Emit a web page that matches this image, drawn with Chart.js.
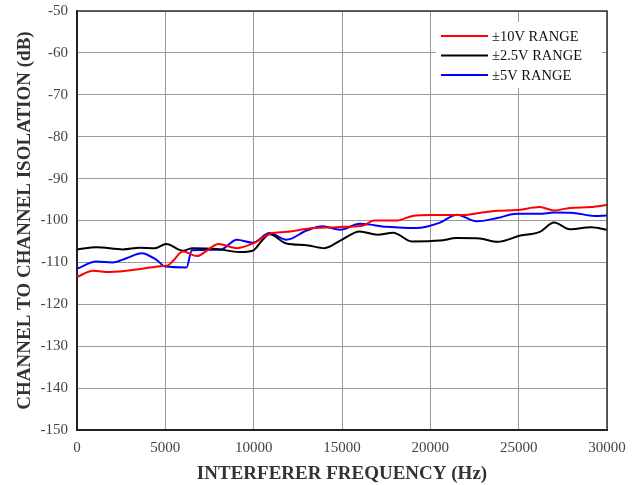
<!DOCTYPE html>
<html>
<head>
<meta charset="utf-8">
<script src="https://cdn.jsdelivr.net/npm/chart.js@4"></script>
<style>
  html, body { margin: 0; padding: 0; background: #fff; }
  #wrap { width: 637px; height: 485px; }
</style>
</head>
<body>
<div id="wrap"><canvas id="isoChart" width="637" height="485"></canvas></div>
<script>
// series: frequency (Hz) and isolation (dB)
const seriesNames = ['\u00B110V RANGE', '\u00B12.5V RANGE', '\u00B15V RANGE'];
const seriesColors = ['#ff0000', '#000000', '#0000ff'];

const redFreq = [0, 900, 1850, 3700, 4700, 5150, 5400, 6000, 6800, 7350, 8000, 9050, 10000, 10900, 11900, 13400, 14700, 15100, 16200, 16800, 18100, 19000, 20000, 21900, 22800, 23800, 24900, 26200, 27000, 27900, 29100, 30000];
const redDb = [-113.5, -112.0, -112.3, -111.5, -110.9, -110.7, -109.8, -107.4, -108.5, -107.2, -105.6, -106.6, -105.4, -103.2, -102.7, -101.8, -101.6, -101.5, -101.2, -100.0, -100.0, -98.9, -98.7, -98.7, -98.2, -97.7, -97.5, -96.8, -97.6, -97.0, -96.8, -96.3];

const blackFreq = [0, 1100, 2600, 3550, 4400, 5050, 6000, 6550, 7900, 9200, 9950, 10450, 10900, 11850, 13000, 14000, 14900, 16000, 17000, 17900, 18950, 20550, 21500, 22800, 23800, 25100, 26200, 27000, 27900, 29100, 30000];
const blackDb = [-106.9, -106.4, -106.9, -106.5, -106.6, -105.6, -107.2, -106.6, -106.8, -107.5, -107.2, -104.9, -103.3, -105.5, -105.9, -106.6, -104.8, -102.6, -103.4, -102.9, -105.0, -104.8, -104.2, -104.3, -105.1, -103.6, -102.7, -100.5, -102.1, -101.6, -102.2];

const blueFreq = [0, 1100, 2000, 2800, 3650, 4500, 5000, 6200, 6500, 8100, 9050, 9950, 10900, 11850, 13000, 13900, 14900, 16000, 17550, 19200, 20550, 21500, 22600, 23800, 24900, 26200, 27000, 28100, 29300, 30000];
const blueDb = [-111.5, -109.8, -110.0, -109.0, -107.8, -109.4, -111.0, -111.2, -107.1, -107.0, -104.6, -105.3, -103.0, -104.6, -102.4, -101.4, -102.2, -100.8, -101.5, -101.8, -100.5, -98.6, -100.2, -99.4, -98.4, -98.4, -98.1, -98.2, -98.9, -98.8];

const xTicks = [0, 5000, 10000, 15000, 20000, 25000, 30000];
const yTicks = [-50, -60, -70, -80, -90, -100, -110, -120, -130, -140, -150];

const toPoints = (xs, ys) => xs.map((x, i) => ({ x: x, y: ys[i] }));
const allFreq = [redFreq, blackFreq, blueFreq];
const allDb = [redDb, blackDb, blueDb];

const serif = '"Liberation Serif", "DejaVu Serif", serif';

// frame on top/right + white legend box inside the plot
const framePlugin = {
    id: 'frame',
    afterDraw(chart) {
        const { ctx, chartArea: a } = chart;
        ctx.save();
        ctx.strokeStyle = '#333';
        ctx.lineWidth = 1.5;
        ctx.beginPath();
        ctx.moveTo(a.left, a.top);
        ctx.lineTo(a.right, a.top);
        ctx.lineTo(a.right, a.bottom);
        ctx.stroke();

        // legend
        ctx.fillStyle = '#fff';
        ctx.fillRect(436, 22, 166, 66);
        ctx.font = '14.5px ' + serif;
        ctx.textBaseline = 'middle';
        seriesNames.forEach((name, i) => {
            const y = 36 + i * 19.5;
            ctx.strokeStyle = seriesColors[i];
            ctx.lineWidth = 2;
            ctx.beginPath();
            ctx.moveTo(441, y);
            ctx.lineTo(488, y);
            ctx.stroke();
            ctx.fillStyle = '#111';
            ctx.fillText(name, 492, y + 1);
        });
        ctx.restore();
    }
};

new Chart(document.getElementById('isoChart').getContext('2d'), {
    type: 'line',
    data: {
        datasets: seriesNames.map((name, i) => ({
            label: name,
            data: toPoints(allFreq[i], allDb[i]),
            borderColor: seriesColors[i],
            backgroundColor: seriesColors[i],
            borderWidth: 2,
            pointRadius: 0,
            cubicInterpolationMode: 'monotone',
            fill: false
        }))
    },
    options: {
        responsive: false,
        animation: false,
        layout: { padding: { top: 11, right: 30, left: 0, bottom: 0 } },
        plugins: {
            legend: { display: false },
            tooltip: { enabled: false }
        },
        scales: {
            x: {
                type: 'linear',
                min: 0,
                max: 30000,
                afterBuildTicks: (axis) => { axis.ticks = xTicks.map(v => ({ value: v })); },
                afterFit: (axis) => { axis.height = 55; axis.paddingLeft = 0; axis.paddingRight = 0; },
                grid: { color: '#9a9a9a', lineWidth: 1, drawTicks: false },
                border: { color: '#222', width: 2 },
                ticks: {
                    color: '#444',
                    padding: 9,
                    font: { family: serif, size: 15 },
                    callback: (v) => String(v)
                },
                title: {
                    display: true,
                    text: 'INTERFERER FREQUENCY (Hz)',
                    color: '#333',
                    font: { family: serif, size: 19, weight: 'bold' },
                    padding: { top: 1, bottom: 0 }
                }
            },
            y: {
                min: -150,
                max: -50,
                afterBuildTicks: (axis) => { axis.ticks = yTicks.map(v => ({ value: v })); },
                afterFit: (axis) => { axis.width = 77; axis.paddingTop = 0; axis.paddingBottom = 0; },
                grid: { color: '#9a9a9a', lineWidth: 1, drawTicks: false },
                border: { color: '#222', width: 2 },
                ticks: {
                    color: '#444',
                    padding: 9,
                    font: { family: serif, size: 15 },
                    callback: (v) => String(v)
                },
                title: {
                    display: true,
                    text: 'CHANNEL TO CHANNEL ISOLATION (dB)',
                    color: '#333',
                    font: { family: serif, size: 19, weight: 'bold' },
                    padding: { top: 14, bottom: 4 }
                }
            }
        }
    },
    plugins: [framePlugin]
});
</script>
</body>
</html>
